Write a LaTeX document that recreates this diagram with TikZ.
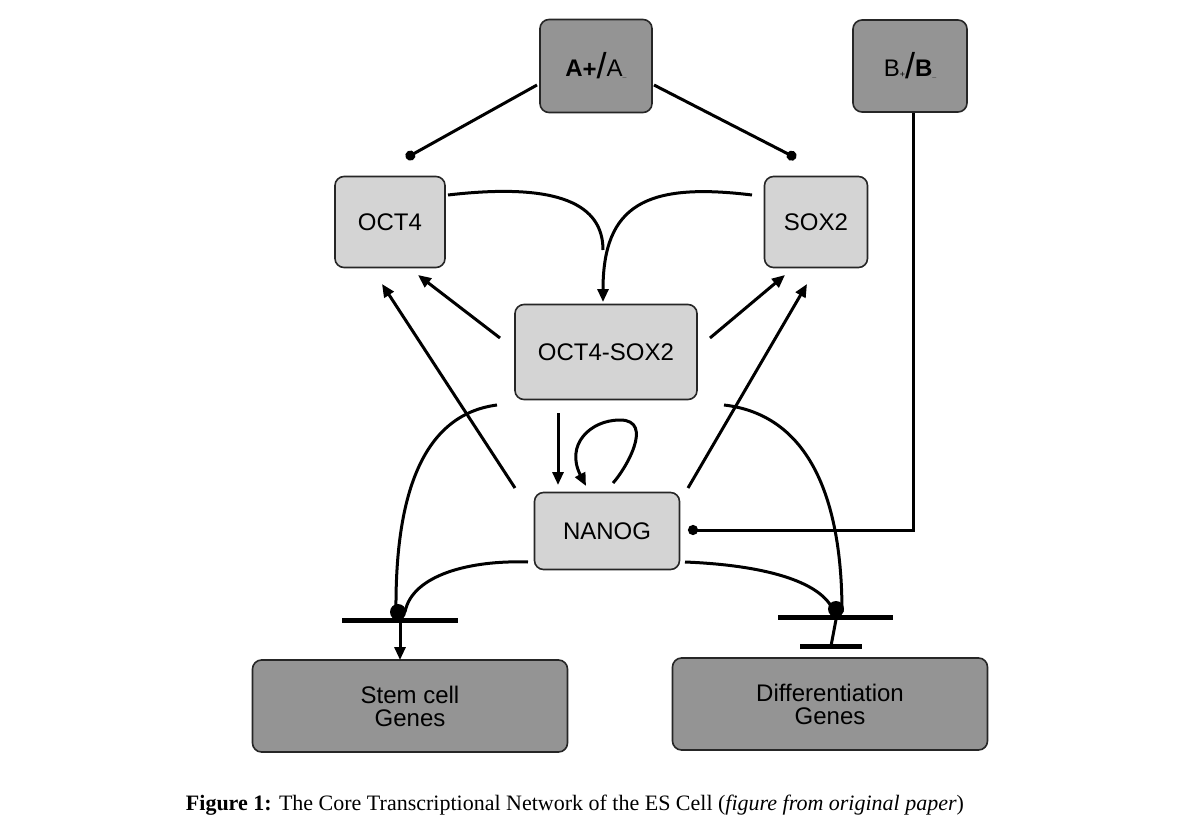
\documentclass[tikz,border=0pt]{standalone}
\usepackage{fontspec}
\setmainfont{Liberation Serif}
\setsansfont{Liberation Sans}
\usetikzlibrary{arrows.meta}
\begin{document}
\begin{tikzpicture}[x=1pt,y=-1pt,
 box/.style={draw=black!85,line width=1.6pt,rounded corners=9pt,font=\sffamily\fontsize{24}{26}\selectfont,align=center,inner sep=0pt},
 lite/.style={box,fill=black!17},
 dark/.style={box,fill=black!42},
 ln/.style={line width=3pt},
 arr/.style={ln,-{Triangle[length=13pt,width=11pt]}},
 dot/.style={ln,-{Circle[length=10pt]}},
 ]
\useasboundingbox (0,0) rectangle (1200,840);
\node[dark,minimum width=112pt,minimum height=93pt] (A) at (596,66) {\textbf{A\raisebox{-1pt}{+}}\raisebox{-2pt}{\fontsize{36}{36}\selectfont/}A\raisebox{-1pt}{\scriptsize\bfseries\_}};
\node[dark,minimum width=114pt,minimum height=92pt] (B) at (910,66) {B\raisebox{-1pt}{\small+}\raisebox{-2pt}{\fontsize{36}{36}\selectfont/}\textbf{B\raisebox{-1pt}{\scriptsize\_}}};
\node[lite,minimum width=110pt,minimum height=91pt] (O) at (390,222) {OCT4};
\node[lite,minimum width=103pt,minimum height=91pt] (S) at (816,222) {SOX2};
\node[lite,minimum width=182pt,minimum height=95pt] (OS) at (606,352) {OCT4-SOX2};
\node[lite,minimum width=145pt,minimum height=77pt] (N) at (607,531) {NANOG};
\node[dark,minimum width=315pt,minimum height=92pt] (SC) at (410,706) {Stem cell\\[-3pt]Genes};
\node[dark,minimum width=315pt,minimum height=92pt] (DG) at (830,704) {Differentiation\\[-3pt]Genes};
\node (cap) at (575,805) {\fontsize{22}{24}\selectfont\textbf{Figure 1:} The Core Transcriptional Network of the ES Cell (\textit{figure from original paper})};
% coordinates
\coordinate (a1) at (537,85); \coordinate (oD) at (406,158);
\coordinate (a2) at (654,85); \coordinate (sD) at (796,158);
\coordinate (o1) at (448,195); \coordinate (s1) at (752,195); \coordinate (osT) at (603,302);
\coordinate (q1) at (500,338); \coordinate (q1e) at (418,275);
\coordinate (q2) at (710,338); \coordinate (q2e) at (785,275);
\coordinate (n1) at (515,488); \coordinate (n1e) at (382,284);
\coordinate (n2) at (688,488); \coordinate (n2e) at (807,284);
\coordinate (v1) at (558,413); \coordinate (v1e) at (558,485);
\coordinate (l1) at (613,483); \coordinate (l1e) at (586,486);
\coordinate (b1) at (913,113); \coordinate (b2) at (913,530); \coordinate (bD) at (688,530);
\coordinate (LJ) at (400,612); \coordinate (RJ) at (838,609);
\coordinate (c1) at (497,405); \coordinate (c2) at (528,562);
\coordinate (c3) at (724,405); \coordinate (c4) at (685,562);
\coordinate (LB1) at (342,620); \coordinate (LB2) at (458,620);
\coordinate (RB1) at (778,617); \coordinate (RB2) at (893,617);
\coordinate (LA) at (400,660); \coordinate (RT) at (831,646);
\coordinate (RT1) at (800,646); \coordinate (RT2) at (862,646);
\draw[dot] (a1) -- (oD);
\draw[dot] (a2) -- (sD);
\draw[ln] (o1) .. controls (560,182) and (603,205) .. (603,250);
\draw[arr] (s1) .. controls (646,182) and (603,205) .. (osT);
\draw[arr] (q1) -- (q1e);
\draw[arr] (q2) -- (q2e);
\draw[arr] (n1) -- (n1e);
\draw[arr] (n2) -- (n2e);
\draw[arr] (v1) -- (v1e);
\draw[arr] (l1) .. controls (625,470) and (655,420) .. (620,420) .. controls (590,420) and (565,445) .. (l1e);
\draw[dot] (b1) -- (b2) -- (bD);
\draw[ln] (c1) .. controls (420,415) and (395,500) .. (396,612);
\draw[ln] (c2) .. controls (470,560) and (412,575) .. (405,612);
\draw[ln] (c3) .. controls (810,415) and (842,500) .. (842,612);
\draw[ln] (c4) .. controls (760,565) and (822,580) .. (834,612);
\fill (398,612) circle (8pt); \fill (836,609) circle (8pt);
\draw[line width=5pt] (LB1) -- (LB2);
\draw[line width=5pt] (RB1) -- (RB2);
\draw[arr] (LJ) -- (LA);
\draw[ln] (RJ) -- (RT);
\draw[line width=5pt] (RT1) -- (RT2);
\end{tikzpicture}
\end{document}
